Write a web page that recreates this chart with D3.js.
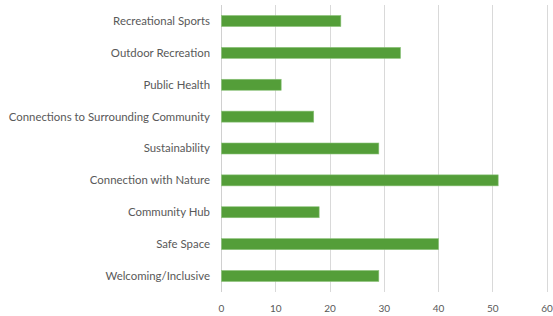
<!DOCTYPE html>
<html><head><meta charset="utf-8">
<script src="https://cdn.jsdelivr.net/npm/d3@7"></script>
<style>body{margin:0;background:#fff}svg{display:block}</style>
</head><body><svg id="c" width="553" height="316"></svg>
<script>
const categories = ["Recreational Sports","Outdoor Recreation","Public Health","Connections to Surrounding Community","Sustainability","Connection with Nature","Community Hub","Safe Space","Welcoming/Inclusive"];
const values = [22,33,11,17,29,51,18,40,29];
const xTicks = [0,10,20,30,40,50,60];

const svg = d3.select("#c");
const x = d3.scaleLinear().domain([0,60]).range([221.5,547]);
const y = d3.scaleBand().domain(categories).range([5,292]).paddingInner(0.655).paddingOuter(0.33);

// gridlines
svg.append("g").selectAll("line").data(xTicks).join("line")
  .attr("x1",d=>x(d)).attr("x2",d=>x(d)).attr("y1",5).attr("y2",292)
  .attr("stroke",d=>d===0?"#d0d0d0":"#d9d9d9").attr("stroke-width",1)
  .attr("shape-rendering","crispEdges");

// bars
svg.append("g").selectAll("rect").data(values).join("rect")
  .attr("x",x(0)).attr("y",(d,i)=>y(categories[i]))
  .attr("width",d=>x(d)-x(0)).attr("height",y.bandwidth())
  .attr("fill","#549e39").attr("stroke","#8cc27a").attr("stroke-width",0.6);

// category labels
svg.append("g").selectAll("text").data(categories).join("text")
  .attr("x",210).attr("y",d=>y(d)+y.bandwidth()/2).attr("dy","0.35em")
  .attr("text-anchor","end").attr("font-family","Lato, sans-serif").attr("font-size","11.4px")
  .attr("fill","#595959").text(d=>d);

// tick labels
svg.append("g").selectAll("text").data(xTicks).join("text")
  .attr("x",d=>x(d)).attr("y",308).attr("dy","0.35em")
  .attr("text-anchor","middle").attr("font-family","Lato, sans-serif").attr("font-size","10px")
  .attr("fill","#595959").text(d=>d);
</script></body></html>
